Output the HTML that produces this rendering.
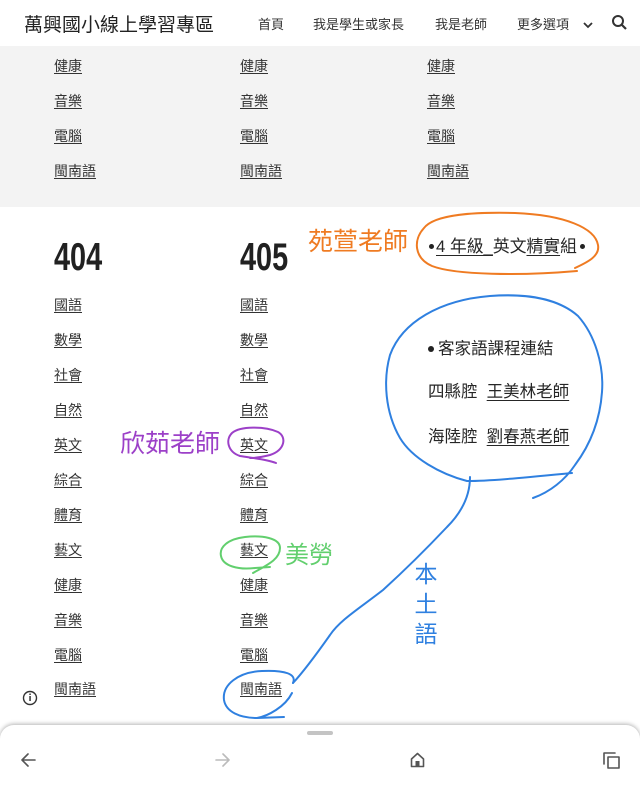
<!DOCTYPE html>
<html><head><meta charset="utf-8">
<style>
html,body{margin:0;padding:0;}
body{width:640px;height:783px;position:relative;overflow:hidden;background:#fff;font-family:"Liberation Sans","Noto Sans CJK TC",sans-serif;color:#333;}
.a{position:absolute;white-space:nowrap;}
.li{position:absolute;font-size:14px;line-height:20px;height:20px;color:#333;text-decoration:underline;text-underline-offset:2px;}
.nav{position:absolute;top:16px;font-size:13px;line-height:18px;color:#333;}
.h{position:absolute;font-size:39px;line-height:40px;font-weight:bold;color:#212121;transform:scaleX(0.74);transform-origin:0 0;}
.r{position:absolute;font-size:16.5px;line-height:22px;color:#262626;white-space:nowrap;}
.u{text-decoration:underline;text-underline-offset:3px;}
.dot{display:inline-block;width:5px;height:5px;border-radius:50%;background:#222;vertical-align:middle;position:relative;top:-1px;}
</style></head><body>
<!-- header -->
<div class="a" style="left:24px;top:14px;font-size:19px;line-height:24px;color:#222;">萬興國小線上學習專區</div>
<div class="nav" style="left:258px;">首頁</div>
<div class="nav" style="left:313px;">我是學生或家長</div>
<div class="nav" style="left:435px;">我是老師</div>
<div class="nav" style="left:517px;">更多選項</div>
<svg class="a" style="left:580px;top:18px" width="16" height="14"><path d="M4,5 L8,9 L12,5" fill="none" stroke="#333" stroke-width="1.8"/></svg>
<svg class="a" style="left:610px;top:13px" width="20" height="20"><circle cx="8" cy="8" r="5" fill="none" stroke="#333" stroke-width="2"/><path d="M11.5,11.5 L16,16" stroke="#333" stroke-width="2.2"/></svg>

<!-- gray band -->
<div class="a" style="left:0;top:46px;width:640px;height:161px;background:#f3f3f3;"></div>
<div class="li" style="left:54px;top:56px;">健康</div>
<div class="li" style="left:240px;top:56px;">健康</div>
<div class="li" style="left:427px;top:56px;">健康</div>
<div class="li" style="left:54px;top:91px;">音樂</div>
<div class="li" style="left:240px;top:91px;">音樂</div>
<div class="li" style="left:427px;top:91px;">音樂</div>
<div class="li" style="left:54px;top:126px;">電腦</div>
<div class="li" style="left:240px;top:126px;">電腦</div>
<div class="li" style="left:427px;top:126px;">電腦</div>
<div class="li" style="left:54px;top:161px;">閩南語</div>
<div class="li" style="left:240px;top:161px;">閩南語</div>
<div class="li" style="left:427px;top:161px;">閩南語</div>

<!-- headings -->
<div class="h" style="left:54px;top:238px;">404</div>
<div class="h" style="left:240px;top:238px;">405</div>

<!-- 404 column -->
<div class="li" style="left:54px;top:295px;">國語</div>
<div class="li" style="left:54px;top:330px;">數學</div>
<div class="li" style="left:54px;top:365px;">社會</div>
<div class="li" style="left:54px;top:400px;">自然</div>
<div class="li" style="left:54px;top:435px;">英文</div>
<div class="li" style="left:54px;top:470px;">綜合</div>
<div class="li" style="left:54px;top:505px;">體育</div>
<div class="li" style="left:54px;top:540px;">藝文</div>
<div class="li" style="left:54px;top:575px;">健康</div>
<div class="li" style="left:54px;top:610px;">音樂</div>
<div class="li" style="left:54px;top:645px;">電腦</div>
<div class="li" style="left:54px;top:679px;">閩南語</div>
<!-- 405 column -->
<div class="li" style="left:240px;top:295px;">國語</div>
<div class="li" style="left:240px;top:330px;">數學</div>
<div class="li" style="left:240px;top:365px;">社會</div>
<div class="li" style="left:240px;top:400px;">自然</div>
<div class="li" style="left:240px;top:435px;">英文</div>
<div class="li" style="left:240px;top:470px;">綜合</div>
<div class="li" style="left:240px;top:505px;">體育</div>
<div class="li" style="left:240px;top:540px;">藝文</div>
<div class="li" style="left:240px;top:575px;">健康</div>
<div class="li" style="left:240px;top:610px;">音樂</div>
<div class="li" style="left:240px;top:645px;">電腦</div>
<div class="li" style="left:240px;top:679px;">閩南語</div>

<!-- right column -->
<div class="r" style="left:429px;top:236px;font-size:16.8px;"><span class="dot" style="margin-right:2px;"></span><span class="u">4 年級_</span>英文<span class="u">精實</span>組<span class="dot" style="margin-left:3px;"></span></div>
<div class="r" style="left:428px;top:338px;"><span class="dot" style="width:6px;height:6px;margin-right:4px;"></span>客家語課程連結</div>
<div class="r" style="left:428px;top:381px;">四縣腔&nbsp;&nbsp;<span class="u">王美林老師</span></div>
<div class="r" style="left:428px;top:426px;">海陸腔&nbsp;&nbsp;<span class="u">劉春燕老師</span></div>

<!-- annotations text -->
<div class="a" style="left:308px;top:227px;font-size:25px;line-height:30px;color:#ef7b22;">苑萱老師</div>
<div class="a" style="left:120px;top:429px;font-size:25px;line-height:30px;color:#9c40c8;">欣茹老師</div>
<div class="a" style="left:285px;top:541px;font-size:24px;line-height:30px;color:#62cf6e;">美勞</div>
<div class="a" style="left:414px;top:559px;font-size:23px;line-height:30px;width:24px;color:#2f80e0;white-space:normal;text-align:center;">本<br>土<br>語</div>

<!-- hand drawn strokes -->
<svg class="a" style="left:0;top:0" width="640" height="783">
<g fill="none" stroke-linecap="round" stroke-linejoin="round">
<path d="M575,268 C588,262 600,256 598,245 C595,228 565,215 515,213 C475,212 435,214 424,228 C413,240 414,258 432,266 C455,275 520,276 577,271" stroke="#ef7b22" stroke-width="2"/>
<path d="M572,473 C520,478 490,481 467,481 C440,474 412,458 400,438 C385,412 383,380 390,355 C402,322 440,300 490,296 C530,293 560,300 578,316 C595,335 604,365 602,392 C600,420 590,445 575,465 C565,480 550,492 533,498" stroke="#2f80e0" stroke-width="2"/>
<path d="M470,477 C470,495 462,512 447,527 C430,545 405,570 383,590 C360,608 340,620 330,635 C318,652 305,670 293,683" stroke="#2f80e0" stroke-width="2"/>
<path d="M293,683 C297,674 285,670 262,671 C238,672 222,685 224,700 C226,712 240,718 257,718 C268,716 285,707 292,693 M257,718 L284,717" stroke="#2f80e0" stroke-width="2"/>
<path d="M276,463 C266,459 252,458 240,456 C228,452 225,440 232,433 C240,426 265,426 278,432 C287,437 285,450 270,455 C262,457 256,458 250,458" stroke="#9c40c8" stroke-width="2"/>
<path d="M253,573 C265,566 280,560 280,548 C280,538 262,535 245,537 C228,539 219,547 221,556 C223,566 238,570 255,568 L270,567" stroke="#62cf6e" stroke-width="2"/>
</g>
<!-- info icon -->
<circle cx="30" cy="698" r="6.5" fill="none" stroke="#333" stroke-width="1.4"/>
<rect x="29.3" y="696" width="1.5" height="5" fill="#333"/>
<rect x="29.3" y="693.5" width="1.5" height="1.5" fill="#333"/>
</svg>

<!-- bottom bar -->
<div class="a" style="left:0;top:725px;width:640px;height:70px;background:#fff;border-radius:14px 14px 0 0;box-shadow:0 -1px 4px rgba(0,0,0,0.3);"></div>
<div class="a" style="left:307px;top:731px;width:26px;height:4px;border-radius:2px;background:#c4c4c4;"></div>
<svg class="a" style="left:0;top:745px" width="640" height="30">
<g fill="none" stroke-width="1.6" stroke-linecap="round" stroke-linejoin="round">
<path d="M35,15 L22,15 M28,9 L22,15 L28,21" stroke="#555"/>
<path d="M216,15 L229,15 M223,9 L229,15 L223,21" stroke="#bbb"/>
<path d="M411.5,14 L417.5,8.5 L423.5,14 L423.5,21.5 L411.5,21.5 Z" stroke="#555"/>
<path d="M608,12 L619,12 L619,23 L608,23 Z" stroke="#555"/>
<path d="M604,19 L604,8 L615,8" stroke="#555"/>
</g>
<rect x="415.5" y="16" width="4" height="5.5" fill="#555"/>
</svg>
</body></html>
